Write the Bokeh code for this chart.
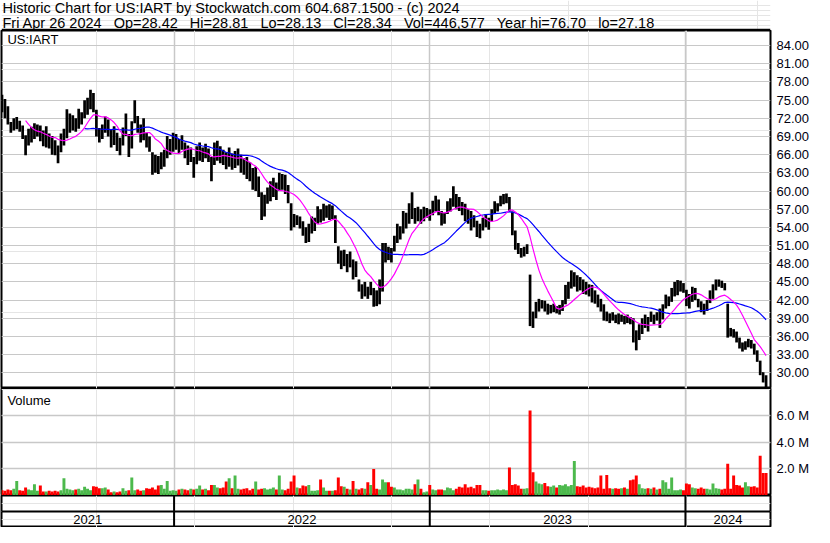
import numpy as np
import pandas as pd
from bokeh.plotting import figure
from bokeh.models import (Range1d, LinearAxis, FixedTicker, Grid, PrintfTickFormatter,
                          Label, Span, ColumnDataSource)
from bokeh.layouts import column
from bokeh.core.properties import value
from bokeh.embed import file_html
from bokeh.resources import INLINE

# ---------------- data (3-weekday bars) ----------------
title_line1 = "Historic Chart for US:IART by Stockwatch.com 604.687.1500 - (c) 2024"
title_fields = ["Fri Apr 26 2024", "Op=28.42", "Hi=28.81", "Lo=28.13", "Cl=28.34",
                "Vol=446,577", "Year hi=76.70", "lo=27.18"]
symbol = "US:IART"

price_lo = [
    73.8, 73.0, 72.0, 71.0, 69.6, 70.0, 70.2, 69.8, 68.6, 65.9,
    67.5, 68.0, 68.6, 69.0, 68.2, 67.4, 67.2, 67.0, 66.0, 65.9,
    64.6, 66.4, 67.5, 68.7, 69.6, 70.0, 69.8, 70.3, 71.0, 72.0,
    72.6, 73.5, 73.0, 69.0, 68.0, 68.6, 69.6, 69.0, 67.2, 67.6,
    66.6, 65.9, 67.5, 69.1, 65.6, 67.0, 71.2, 69.6, 68.0, 68.4,
    67.2, 66.5, 62.7, 63.0, 62.8, 63.6, 64.0, 65.4, 66.0, 66.5,
    66.8, 66.2, 66.8, 65.4, 64.3, 64.8, 62.2, 64.4, 65.0, 64.8,
    65.4, 64.8, 61.6, 64.3, 65.0, 64.6, 64.3, 63.6, 64.0, 63.5,
    63.8, 64.2, 63.0, 62.7, 62.0, 61.6, 60.2, 60.0, 59.0, 55.2,
    55.8, 57.9, 58.3, 59.0, 58.5, 60.0, 60.2, 59.5, 58.0, 53.5,
    54.0, 54.4, 53.8, 52.6, 51.4, 51.6, 53.0, 53.4, 54.6, 54.8,
    55.1, 55.6, 55.2, 55.4, 51.4, 48.0, 47.1, 47.6, 46.6, 47.4,
    45.4, 45.8, 43.4, 42.2, 42.6, 42.2, 42.8, 40.9, 41.0, 41.3,
    43.4, 48.2, 48.6, 48.2, 50.0, 51.4, 52.0, 53.0, 53.8, 54.6,
    55.4, 54.6, 55.0, 54.6, 55.0, 55.6, 55.1, 56.0, 56.6, 56.0,
    54.3, 54.6, 56.2, 56.6, 57.4, 57.0, 56.7, 56.0, 55.0, 54.6,
    53.5, 54.0, 52.4, 52.2, 53.5, 54.0, 53.6, 55.0, 56.2, 56.6,
    57.5, 57.8, 58.0, 56.6, 52.7, 50.3, 49.6, 49.0, 49.2, 49.6,
    37.7, 37.4, 39.0, 40.1, 40.6, 40.1, 39.6, 39.8, 40.0, 39.8,
    39.6, 40.2, 41.3, 42.2, 43.9, 44.2, 43.4, 43.6, 43.0, 42.9,
    42.6, 41.6, 41.4, 40.8, 40.1, 38.6, 38.5, 38.2, 38.6, 38.2,
    38.0, 38.4, 38.0, 38.2, 38.0, 35.0, 33.7, 35.4, 36.4, 37.4,
    36.8, 38.4, 38.0, 38.6, 37.4, 38.8, 40.6, 41.0, 41.7, 42.6,
    42.8, 43.4, 43.2, 41.0, 40.6, 41.7, 42.0, 40.8, 40.0, 39.6,
    40.2, 41.5, 42.2, 43.6, 44.2, 44.0, 43.6, 35.8, 36.0, 35.8,
    35.0, 34.0, 33.5, 33.8, 34.2, 34.0, 33.0, 31.8, 29.6, 28.4, 27.2,
]
price_hi = [
    76.0, 75.9, 75.2, 74.0, 71.4, 72.0, 72.2, 71.6, 70.8, 69.2,
    70.3, 70.6, 71.2, 71.0, 70.8, 70.0, 70.7, 69.5, 69.1, 68.4,
    67.5, 69.5, 70.3, 73.5, 72.8, 72.5, 72.0, 73.6, 73.0, 75.0,
    75.4, 76.7, 76.2, 73.4, 70.4, 71.0, 72.3, 71.8, 70.2, 70.7,
    69.6, 68.8, 70.5, 72.8, 69.4, 71.5, 75.0, 72.4, 71.0, 72.0,
    69.6, 69.0, 66.4, 66.0, 65.8, 66.4, 66.8, 69.1, 68.6, 69.6,
    69.4, 68.6, 69.2, 68.0, 67.5, 67.2, 65.6, 67.4, 68.0, 67.2,
    67.8, 67.0, 65.6, 68.0, 68.3, 67.4, 66.8, 66.4, 67.2, 66.2,
    66.6, 67.0, 66.0, 65.4, 65.6, 64.8, 63.8, 64.0, 62.4, 59.8,
    59.4, 60.6, 61.6, 62.2, 61.4, 63.0, 62.8, 62.7, 61.0, 58.0,
    56.2, 56.0, 55.8, 55.0, 54.0, 54.6, 55.8, 55.6, 57.5, 57.0,
    57.9, 57.6, 57.8, 57.6, 56.0, 50.9, 50.2, 50.3, 49.6, 50.0,
    48.7, 48.4, 45.4, 44.6, 45.0, 44.2, 45.0, 44.0, 43.6, 45.4,
    51.4, 51.4, 50.8, 50.6, 52.6, 54.6, 54.2, 56.7, 56.4, 58.0,
    59.8, 57.2, 57.4, 57.0, 57.4, 57.2, 57.0, 58.4, 59.2, 58.6,
    56.7, 56.4, 58.3, 58.8, 60.8, 59.5, 59.0, 58.2, 57.9, 57.0,
    56.7, 56.0, 55.1, 54.6, 55.6, 56.2, 55.6, 57.0, 58.3, 58.0,
    59.2, 59.5, 59.6, 59.0, 56.6, 53.5, 51.4, 50.6, 50.8, 51.2,
    46.2, 40.1, 41.7, 42.2, 42.0, 41.9, 41.4, 41.2, 41.4, 41.0,
    41.2, 42.0, 44.5, 45.0, 46.9, 46.6, 46.1, 45.8, 45.4, 45.0,
    44.6, 44.5, 43.6, 42.9, 42.2, 41.3, 40.1, 39.8, 40.0, 39.6,
    39.8, 39.6, 39.4, 39.6, 39.2, 39.0, 37.0, 38.0, 39.0, 39.6,
    39.2, 40.1, 39.6, 40.0, 40.6, 41.3, 42.9, 42.6, 44.0, 45.0,
    45.3, 45.2, 44.8, 43.7, 43.0, 44.2, 44.0, 42.2, 41.8, 41.4,
    42.0, 43.6, 44.6, 45.4, 45.4, 45.2, 44.8, 41.4, 37.4, 37.2,
    36.8, 35.8, 35.0, 35.2, 35.6, 35.4, 34.8, 33.7, 32.0, 30.1, 29.6,
]
volume_m = [
    0.45, 0.4, 0.35, 0.45, 0.4, 0.5, 1.1, 0.4, 0.35, 0.6,
    0.45, 0.4, 0.85, 0.35, 0.75, 0.3, 0.3, 0.35, 0.3, 0.35,
    0.3, 0.4, 1.3, 0.5, 0.45, 0.4, 0.45, 0.5, 0.4, 0.65,
    0.5, 0.4, 0.7, 0.65, 0.55, 0.55, 0.6, 0.45, 0.25, 0.3,
    0.25, 0.3, 0.55, 0.35, 0.4, 1.35, 0.4, 0.45, 0.35, 0.4,
    0.55, 0.5, 0.6, 0.45, 0.75, 0.8, 0.5, 1.1, 0.35, 0.4,
    0.35, 0.45, 0.5, 0.45, 0.4, 0.5, 0.45, 0.5, 0.75, 0.45,
    0.5, 0.4, 0.8, 0.8, 0.6, 0.55, 0.6, 1.05, 1.3, 0.55,
    1.5, 0.5, 0.45, 0.5, 0.55, 0.4, 0.5, 1.05, 0.45, 0.5,
    0.55, 0.45, 0.5, 0.6, 0.45, 1.5, 0.45, 0.4, 0.5, 1.05,
    1.5, 0.6, 0.55, 0.75, 0.7, 0.8, 0.35, 0.35, 0.4, 1.2,
    0.6, 0.35, 0.35, 0.35, 0.4, 1.35, 0.7, 0.65, 0.5, 0.45,
    1.1, 0.5, 0.45, 0.55, 0.5, 1.0, 0.8, 2.0, 0.5, 0.45,
    1.2, 1.0, 1.0, 0.65, 0.6, 0.45, 0.45, 0.4, 0.5, 0.5,
    0.45, 0.85, 1.2, 0.5, 0.25, 0.3, 0.8, 0.45, 0.4, 0.45,
    0.45, 0.4, 0.6, 0.55, 0.4, 0.5, 0.65, 0.6, 0.85, 0.6,
    0.65, 0.55, 0.8, 0.8, 0.4, 0.4, 0.35, 0.4, 0.4, 0.45,
    0.4, 0.45, 0.4, 2.1, 0.8, 0.85, 0.75, 0.5, 0.5, 0.55,
    6.4, 1.75, 1.05, 0.9, 0.85, 0.95, 0.7, 0.65, 0.75, 0.6,
    0.8, 0.75, 0.85, 0.7, 0.8, 2.6, 0.7, 0.65, 0.75, 0.6,
    0.65, 0.6, 0.55, 0.6, 1.5, 0.5, 1.55, 0.55, 0.5, 0.55,
    0.5, 0.55, 0.6, 0.5, 1.15, 1.2, 1.5, 0.85, 0.55, 0.5,
    0.55, 0.5, 0.6, 0.45, 0.5, 1.15, 1.0, 0.5, 1.35, 0.4,
    0.4, 0.45, 0.4, 0.9, 0.85, 0.6, 0.55, 0.5, 0.6, 0.5,
    0.5, 0.45, 0.9, 0.55, 0.5, 0.45, 0.5, 2.4, 0.5, 1.5,
    0.8, 0.75, 0.6, 1.0, 0.7, 0.65, 0.7, 0.6, 3.0, 1.7, 1.7,
]
price_ticks = [30, 33, 36, 39, 42, 45, 48, 51, 54, 57, 60, 63, 66, 69, 72, 75, 78, 81, 84]
volume_ticks = [2, 4, 6]
year_labels = ["2021", "2022", "2023", "2024"]

# ---------------- derived series ----------------
dates = pd.bdate_range("2021-04-27", "2024-04-26")
n_days = len(dates)
nb = min(len(price_lo), len(price_hi), len(volume_m))
lo = np.array(price_lo[:nb])
hi = np.array(price_hi[:nb])
vol = np.array(volume_m[:nb])
bar_x = np.arange(1, n_days, 3)[:nb].astype(float)
mid = (hi + lo) / 2.0
ma_fast = pd.Series(mid).rolling(10).mean().to_numpy()
ma_slow = pd.Series(mid).rolling(30).mean().to_numpy()
chg = np.diff(mid, prepend=mid[0])
vcolor = np.where(chg >= 0, "#4cb94c", "#ff0000")

year_idx = [i for i in range(1, n_days) if dates[i].year != dates[i - 1].year]

x_start, x_end = 3.5, n_days + 1.5
bounds = [x_start] + year_idx + [x_end]
year_cx = [(bounds[k] + bounds[k + 1]) / 2.0 for k in range(len(year_labels))]

W = 814
RB = 44          # right label column
FONT = "Liberation Sans"
GRID = "#c8c8c8"
GAP = "\u00a0\u00a0 "  # keeps the wide field spacing of the header visible in SVG

xr = Range1d(x_start, x_end)

# ---------------- header ----------------
ph = figure(width=W, height=30, x_range=Range1d(0, W), y_range=Range1d(0, 30),
            output_backend="svg", toolbar_location=None, min_border=0,
            x_axis_location=None, y_axis_location=None)
ph.outline_line_color = None
ph.add_layout(Label(x=1, y=30.5, text=title_line1, text_font=FONT, text_font_size="14.5px",
                    text_baseline="top", text_color="#000000"))
ph.add_layout(Label(x=1, y=16, text=GAP.join(title_fields), text_font=FONT, text_font_size="14.5px",
                    text_baseline="top", text_color="#000000"))
ph.add_layout(Span(location=0.8, dimension="width", line_color="black", line_width=2))

# ---------------- price panel ----------------
y_lo, y_hi = 27.4, 86.5
pp = figure(width=W, height=358, x_range=xr, y_range=Range1d(y_lo, y_hi),
            output_backend="svg", toolbar_location=None,
            min_border_left=1, min_border_right=RB, min_border_top=0, min_border_bottom=0,
            x_axis_location=None, y_axis_location=None)
pp.outline_line_color = "black"
pp.outline_line_width = 2
pp.outline_line_alpha = 1.0
pax = LinearAxis(ticker=FixedTicker(ticks=price_ticks), formatter=PrintfTickFormatter(format="%.2f"),
                 major_tick_out=0, major_tick_in=0, minor_tick_out=0, minor_tick_in=0,
                 axis_line_color=None, major_label_standoff=6,
                 major_label_text_font=FONT, major_label_text_font_size="13px",
                 major_label_text_color="#000010")
pp.add_layout(pax, "right")
pp.add_layout(Grid(dimension=1, ticker=FixedTicker(ticks=price_ticks), grid_line_color=GRID, grid_line_width=1))
pp.add_layout(Grid(dimension=0, ticker=FixedTicker(ticks=year_idx), grid_line_color=GRID, grid_line_width=1.5))

src = ColumnDataSource(dict(x=bar_x, lo=lo, hi=hi, vol=vol, c=vcolor, maf=ma_fast, mas=ma_slow))
pp.segment(x0="x", y0="lo", x1="x", y1="hi", source=src, line_color="black", line_width=2.7)
pp.line("x", "mas", source=src, line_color="#0000ff", line_width=1.2)
pp.line("x", "maf", source=src, line_color="#ff00ff", line_width=1.2)
pp.add_layout(Label(x=x_start + 6, y=y_hi - 1.5, text=symbol, text_font=FONT, text_font_size="13px",
                    text_baseline="middle", text_color="#000000"))

# ---------------- volume panel ----------------
v_hi = 8.06
pv = figure(width=W, height=107, x_range=xr, y_range=Range1d(0, v_hi),
            output_backend="svg", toolbar_location=None,
            min_border_left=1, min_border_right=RB, min_border_top=0, min_border_bottom=0,
            x_axis_location=None, y_axis_location=None)
pv.outline_line_color = "black"
pv.outline_line_width = 2
pv.outline_line_alpha = 1.0
vax = LinearAxis(ticker=FixedTicker(ticks=volume_ticks), formatter=PrintfTickFormatter(format="%.1f M"),
                 major_tick_out=0, major_tick_in=0, minor_tick_out=0, minor_tick_in=0,
                 axis_line_color=None, major_label_standoff=6,
                 major_label_text_font=FONT, major_label_text_font_size="13px",
                 major_label_text_color="#000010")
pv.add_layout(vax, "right")
pv.add_layout(Grid(dimension=1, ticker=FixedTicker(ticks=volume_ticks), grid_line_color=GRID, grid_line_width=1.5))
pv.add_layout(Grid(dimension=0, ticker=FixedTicker(ticks=year_idx), grid_line_color=GRID, grid_line_width=1.5))
pv.vbar(x="x", top="vol", bottom=0, width=3.0, source=src, fill_color="c", line_color=None)
pv.add_layout(Label(x=x_start + 6, y=v_hi - 0.9, text="Volume", text_font=FONT, text_font_size="13px",
                    text_baseline="middle", text_color="#000000"))

# ---------------- year rows ----------------
ps = figure(width=W, height=32, x_range=xr, y_range=Range1d(0, 2),
            output_backend="svg", toolbar_location=None,
            min_border_left=1, min_border_right=RB, min_border_top=0, min_border_bottom=0,
            x_axis_location=None, y_axis_location=None)
ps.outline_line_color = "black"
ps.outline_line_width = 2
ps.outline_line_alpha = 1.0
ps.add_layout(Span(location=1, dimension="width", line_color="black", line_width=2))
ps.segment(x0=year_idx, y0=[0] * len(year_idx), x1=year_idx, y1=[2] * len(year_idx),
           line_color="black", line_width=2)
ps.text(x=year_cx, y=[0.5] * len(year_labels), text=year_labels, text_align="center",
        text_baseline="middle", text_font=value(FONT), text_font_size="13px", text_color="#000000")

layout = column(ph, pp, pv, ps, spacing=0)
open("out.html", "w").write(file_html(layout, INLINE))
